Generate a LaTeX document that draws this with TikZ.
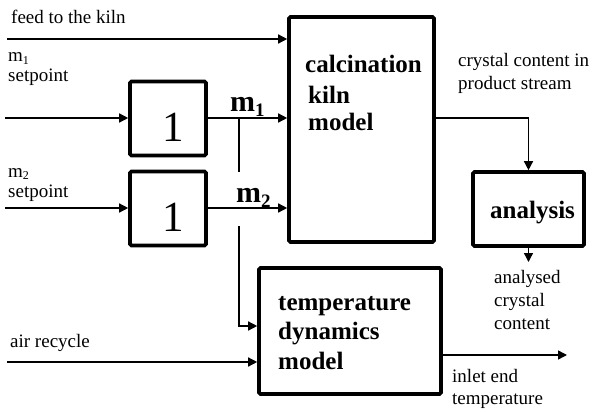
\documentclass[tikz,border=0pt]{standalone}
\usepackage{fontspec}
\setmainfont{Liberation Serif}
\usetikzlibrary{arrows.meta}
\begin{document}
\begin{tikzpicture}[x=1pt,y=-1pt,
  blk/.style={draw,line width=3.6pt,rounded corners=1.5pt,inner sep=0pt},
  con/.style={line width=1.4pt},
  arr/.style={con,-{Triangle[length=9pt,width=9pt]}},
  small/.style={font=\fontsize{19}{22}\selectfont,inner sep=0pt,anchor=base west},
  bigb/.style={font=\fontsize{25}{29}\bfseries\selectfont,inner sep=0pt,anchor=base west},
  msym/.style={font=\fontsize{30}{34}\bfseries\selectfont,inner sep=0pt,anchor=base west},
  one/.style={font=\fontsize{43}{48}\selectfont,inner sep=0pt,anchor=base}]
\useasboundingbox (0,0) rectangle (595,412);
% blocks
\node[blk,minimum width=145pt,minimum height=225pt] (kiln) at (361.5,129.5) {};
\node[blk,minimum width=76pt,minimum height=74pt] (b1) at (168,118.5) {};
\node[blk,minimum width=76pt,minimum height=74pt] (b2) at (168,208.5) {};
\node[blk,minimum width=111pt,minimum height=74pt] (ana) at (528.5,209) {};
\node[blk,minimum width=182pt,minimum height=126pt] (temp) at (350,331) {};
% texts in blocks
\node[one] (one1) at (173,141) {1};
\node[one] (one2) at (173,231) {1};
\node[bigb] (k1) at (305,73) {calcination};
\node[bigb] (k2) at (308,103) {kiln};
\node[bigb] (k3) at (308,131) {model};
\node[bigb] (an) at (490,218) {analysis};
\node[bigb] (t1) at (278,310) {temperature};
\node[bigb] (t2) at (278,339) {dynamics};
\node[bigb] (t3) at (278,369) {model};
% free text
\node[small] (feedt) at (11,24) {feed to the kiln};
\node[small] (m1t) at (8,62) {m\raisebox{-0.12em}{\fontsize{12}{12}\selectfont 1}};
\node[small] (sp1) at (8,82) {setpoint};
\node[small] (m2t) at (8,177) {m\raisebox{-0.12em}{\fontsize{12}{12}\selectfont 2}};
\node[small] (sp2) at (8,197) {setpoint};
\node[small] (airt) at (10,347) {air recycle};
\node[small] (cc1) at (458,67) {crystal content in};
\node[small] (cc2) at (458,90) {product stream};
\node[small] (ac1) at (494,283) {analysed};
\node[small] (ac2) at (494,306) {crystal};
\node[small] (ac3) at (494,329) {content};
\node[small] (ie1) at (452,382) {inlet end};
\node[small] (ie2) at (452,404) {temperature};
\node[msym] (m1) at (230,111) {m\raisebox{-0.18em}{\fontsize{19}{19}\selectfont 1}};
\node[msym] (m2) at (236,202) {m\raisebox{-0.18em}{\fontsize{19}{19}\selectfont 2}};
% coordinates
\coordinate (feed) at (7,39);
\coordinate (s1) at (5,118);
\coordinate (s2) at (5,208);
\coordinate (air) at (7,362);
\coordinate (j1) at (239,118);
\coordinate (j1e) at (239,172);
\coordinate (j2) at (239,226);
\coordinate (j2e) at (239,326);
\coordinate (ko) at (434,118);
\coordinate (out) at (567,355);
\coordinate (anout) at (528.5,262);
% connectors
\draw[arr] (feed) -- (feed -| kiln.west);
\draw[arr] (s1) -- (s1 -| b1.west);
\draw[arr] (s2) -- (s2 -| b2.west);
\draw[arr] (b1.east |- s1) -- (s1 -| kiln.west);
\draw[arr] (b2.east |- s2) -- (s2 -| kiln.west);
\draw[con] (j1) -- (j1e);
\draw[arr] (j2) -- (j2e) -- (j2e -| temp.west);
\draw[arr] (air) -- (air -| temp.west);
\draw[arr] (temp.east |- out) -- (out);
\draw[arr] (ko -| kiln.east) -| (ana.north);
\draw[arr] (ana.south) -- (anout);
\end{tikzpicture}
\end{document}
